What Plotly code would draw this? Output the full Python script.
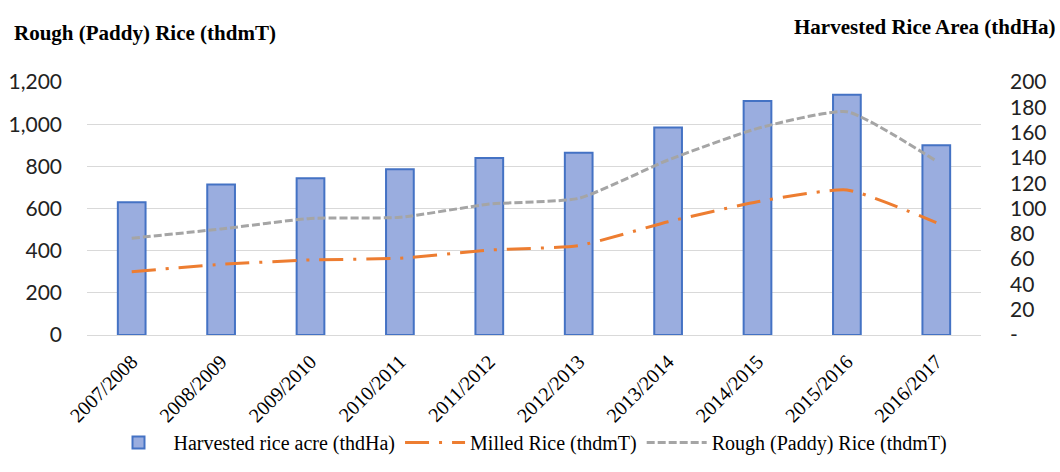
import plotly.graph_objects as go

# Marketing years
seasons = ["2007/2008", "2008/2009", "2009/2010", "2010/2011", "2011/2012",
           "2012/2013", "2013/2014", "2014/2015", "2015/2016", "2016/2017"]

# Harvested area, thousand hectares (right axis)
harvested_area = [105, 119, 124, 131, 140, 144, 164, 185, 190, 150]

# Production, thousand metric tons (left axis)
milled_rice = [300, 335, 356, 364, 403, 424, 537, 632, 688, 533]
rough_rice = [459, 503, 553, 558, 621, 648, 830, 980, 1059, 825]

left_ticks = [0, 200, 400, 600, 800, 1000, 1200]
right_ticks = [0, 20, 40, 60, 80, 100, 120, 140, 160, 180, 200]
right_tick_text = ["-" if v == 0 else str(v) for v in right_ticks]

serif = "Liberation Serif, Times New Roman, serif"
sans = "Lato, Open Sans, sans-serif"

fig = go.Figure()

# Bars sit on the base axis (right side) so the lines render above them
fig.add_trace(go.Bar(
    x=seasons, y=harvested_area, name="Harvested rice acre (thdHa)",
    yaxis="y",
    marker=dict(color="#9aaddf", line=dict(color="#4472c4", width=2)),
))

fig.add_trace(go.Scatter(
    x=seasons, y=milled_rice, name="Milled Rice (thdmT)", mode="lines",
    yaxis="y2",
    line=dict(color="#ed7d31", width=3, dash="24px,10px,3px,10px",
              shape="spline", smoothing=0.5),
))

fig.add_trace(go.Scatter(
    x=seasons, y=rough_rice, name="Rough (Paddy) Rice (thdmT)", mode="lines",
    yaxis="y2",
    line=dict(color="#a5a5a5", width=3, dash="8px,3px",
              shape="spline", smoothing=0.5),
))

fig.update_layout(
    width=1060, height=472,
    margin=dict(l=87, r=79, t=82, b=137),
    paper_bgcolor="white", plot_bgcolor="white",
    bargap=0.69,
    showlegend=True,
    legend=dict(orientation="h", x=528 / 1060, xref="container", xanchor="center",
                y=10 / 472, yref="container", yanchor="bottom",
                bgcolor="rgba(0,0,0,0)",
                font=dict(family=serif, size=20, color="#000"),
                itemwidth=60, traceorder="normal"),
    xaxis=dict(tickangle=-45, tickfont=dict(family=serif, size=20, color="#000"),
               showgrid=False, showline=False, ticks="", automargin=False,
               ticklabelstandoff=10),
    yaxis=dict(range=[0, 200], tickvals=right_ticks, ticktext=right_tick_text,
               side="right", showgrid=False, zeroline=False,
               tickfont=dict(family=sans, size=21, color="#222"),
               ticklabelstandoff=28, automargin=False),
    yaxis2=dict(range=[0, 1200], tickvals=left_ticks, tickformat=",",
                overlaying="y", side="left",
                tickfont=dict(family=sans, size=21, color="#222"),
                showgrid=True, gridcolor="#d9d9d9", gridwidth=1,
                zeroline=True, zerolinecolor="#d9d9d9", zerolinewidth=1,
                ticklabelstandoff=24, automargin=False),
    annotations=[
        dict(text="<b>Rough (Paddy) Rice (thdmT)</b>", xref="paper", yref="paper",
             x=-75 / 894, y=1 + 49 / 253, xanchor="left", yanchor="middle",
             showarrow=False, font=dict(family=serif, size=21, color="#000")),
        dict(text="<b>Harvested Rice Area (thdHa)</b>", xref="paper", yref="paper",
             x=1 + 76 / 894, y=1 + 55 / 253, xanchor="right", yanchor="middle",
             showarrow=False, font=dict(family=serif, size=21, color="#000")),
    ],
)

fig.write_html("out.html")
